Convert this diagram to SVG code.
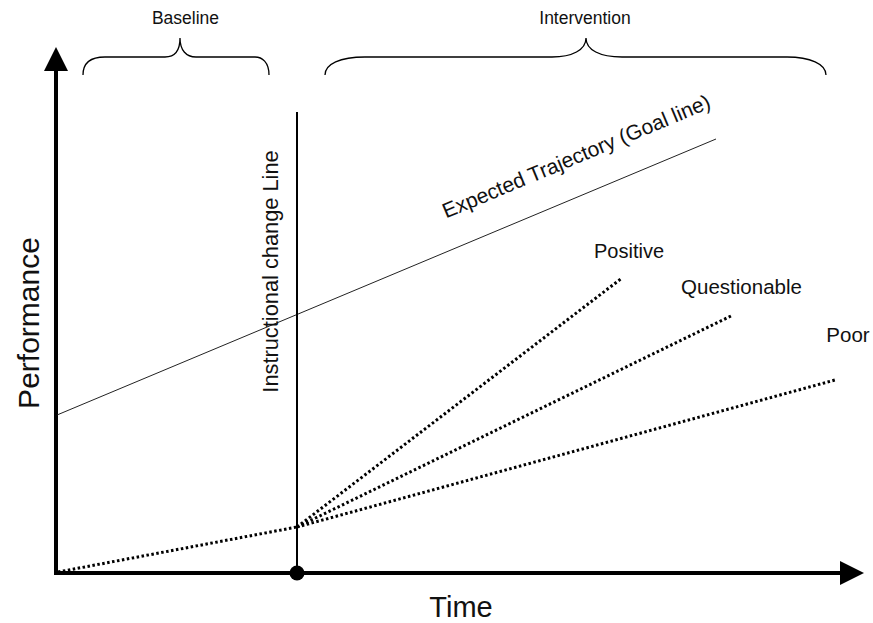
<svg xmlns="http://www.w3.org/2000/svg" width="873" height="623" viewBox="0 0 873 623">
<style>
text{font-family:"Liberation Sans",Arial,sans-serif;fill:#111}
.axis{stroke:#000;stroke-width:4;fill:none}
.dot{stroke:#000;stroke-width:3;stroke-dasharray:2.5 2.5;fill:none}
.brace{stroke:#000;stroke-width:1.3;fill:none}
</style>
<rect width="873" height="623" fill="#fff"/>
<g id="axes">
<line class="axis" x1="56" y1="575" x2="56" y2="66"/>
<polygon points="56,47 44,71 68,71" fill="#000"/>
<line class="axis" x1="54" y1="573" x2="844" y2="573"/>
<polygon points="864,573 840,561 840,585" fill="#000"/>
<text x="0" y="0" font-size="30" text-anchor="middle" transform="translate(39,323) rotate(-90)">Performance</text>
<text x="461" y="617" font-size="29" text-anchor="middle">Time</text>
</g>
<g id="baseline-brace">
<path class="brace" d="M83,75 C83,62 92,57 105,57 L165,57 C175,57 180,50 180,38 C180,50 186,57 196,57 L255,57 C262,57 269,62 269,75"/>
<text x="185.5" y="24" font-size="17.5" text-anchor="middle">Baseline</text>
</g>
<g id="intervention-brace">
<path class="brace" d="M325,75 C325,64 340,57 365,57 L552,57 C572,57 586,50 586,38 C586,50 600,57 622,57 L787,57 C810,57 826,64 826,75"/>
<text x="585" y="24" font-size="17.5" text-anchor="middle">Intervention</text>
</g>
<g id="goal-line">
<line x1="57" y1="415" x2="716" y2="139" stroke="#222" stroke-width="1"/>
<text x="0" y="0" font-size="21" text-anchor="middle" transform="translate(579,163) rotate(-22.7)">Expected Trajectory (Goal line)</text>
</g>
<g id="instructional-change">
<line x1="297" y1="112" x2="297" y2="573" stroke="#000" stroke-width="2"/>
<circle cx="297" cy="573" r="7.5" fill="#000"/>
<text x="0" y="0" font-size="21.8" text-anchor="middle" transform="translate(278,271.5) rotate(-90)">Instructional change Line</text>
</g>
<g id="connectors">
<line class="dot" x1="58" y1="572" x2="297" y2="527"/>
<line class="dot" x1="297" y1="527" x2="622" y2="278"/>
<line class="dot" x1="297" y1="527" x2="733" y2="315"/>
<line class="dot" x1="297" y1="527" x2="835" y2="380"/>
</g>
<g id="positive"><text x="629" y="258" font-size="20" text-anchor="middle">Positive</text></g>
<g id="questionable"><text x="741.5" y="294" font-size="20.5" text-anchor="middle">Questionable</text></g>
<g id="poor"><text x="848" y="342" font-size="20.5" text-anchor="middle">Poor</text></g>
</svg>
